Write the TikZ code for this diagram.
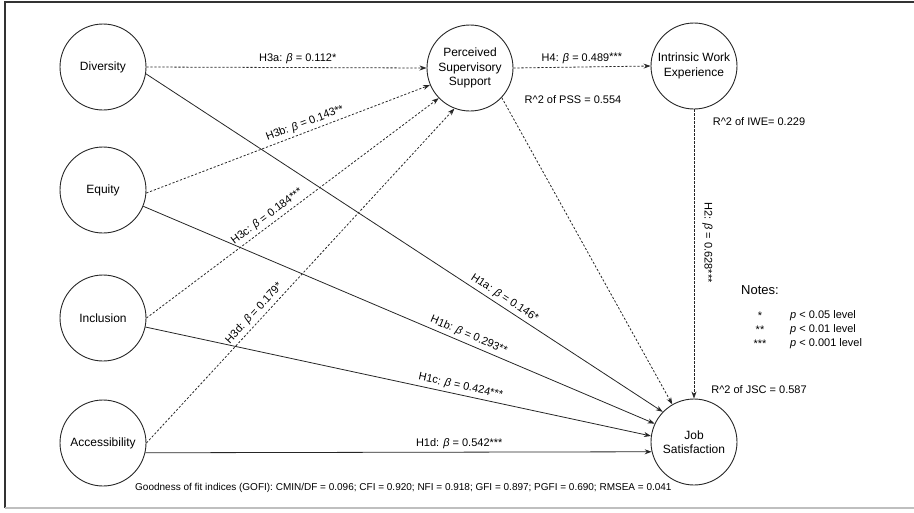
\documentclass[tikz,border=0pt]{standalone}
\usepackage{fontspec}
\setmainfont{Liberation Sans}
\usetikzlibrary{arrows.meta}
\newcommand{\bt}{\textit{β}}
\tikzset{
  var/.style={circle,draw=black!85,line width=0.9pt,minimum size=86pt,inner sep=0pt,align=center,font=\fontsize{12}{14.5}\selectfont},
  solidarr/.style={draw=black!85,line width=0.8pt,-{Stealth[length=7pt,width=5pt]}},
  dotarr/.style={draw=black!85,line width=0.8pt,dash pattern=on 2.2pt off 1.8pt,-{Stealth[length=7pt,width=5pt]}},
  elab/.style={font=\fontsize{11}{13}\selectfont,inner sep=1pt,sloped,above=2pt},
  plain/.style={font=\fontsize{11}{13}\selectfont,inner sep=0pt}
}
\begin{document}
\begin{tikzpicture}[x=1pt,y=-1pt]
\useasboundingbox (0,0) rectangle (914,512);
% frame
\draw[black!80,line width=1.6pt] (5,508) -- (5,2) -- (914,2);
\draw[black!25,line width=1.6pt] (5,508) -- (914,508);
% nodes
\node[var] (div) at (103,67) {Diversity};
\node[var] (equ) at (103,190) {Equity};
\node[var] (inc) at (103,318) {Inclusion};
\node[var] (acc) at (103,443) {Accessibility};
\node[var] (pss) at (470,68) {Perceived\\Supervisory\\Support};
\node[var] (iwe) at (694,66) {Intrinsic Work\\Experience};
\node[var] (jsc) at (694,442) {Job\\Satisfaction};
% paths to PSS
\draw[dotarr] (div.0) -- node[elab,pos=0.54] {H3a: \bt{} = 0.112*} (pss.180);
\draw[dotarr] (equ.-4) -- node[elab,pos=0.57] {H3b: \bt{} = 0.143**} (pss.203);
\draw[dotarr] (inc.0) -- node[elab,pos=0.43] {H3c: \bt{} = 0.184***} (pss.224);
\draw[dotarr] (acc.0) -- node[elab,pos=0.37] {H3d: \bt{} = 0.179*} (pss.249);
% paths to JSC
\draw[solidarr] (div.-9) -- node[elab,pos=0.685] {H1a: \bt{} = 0.146*} (jsc.136);
\draw[solidarr] (equ.-22) -- node[elab,pos=0.63] {H1b: \bt{} = 0.293**} (jsc.155);
\draw[solidarr] (inc.-12) -- node[elab,pos=0.62] {H1c: \bt{} = 0.424***} (jsc.172);
\draw[solidarr] (acc.-13) -- node[elab,pos=0.62] {H1d: \bt{} = 0.542***} (jsc.193);
\draw[dotarr] (pss.-43) -- (jsc.120);
\draw[dotarr] (pss.0) -- node[elab,pos=0.5] {H4: \bt{} = 0.489***} (iwe.180);
\draw[dotarr] (iwe.south) -- node[elab,above=5pt,pos=0.46] {H2: \bt{} = 0.628***} (jsc.north);
% R^2 texts
\node[plain] (rpss) at (573,100) {R\textasciicircum 2 of PSS = 0.554};
\node[plain] (riwe) at (759,122) {R\textasciicircum 2 of IWE= 0.229};
\node[plain] (rjsc) at (759,390) {R\textasciicircum 2 of JSC = 0.587};
% notes
\node[font=\fontsize{13}{15}\selectfont,inner sep=0pt] (notes) at (760,290) {Notes:};
\node[plain] (s1) at (760,316) {*};
\node[plain] (s2) at (760,330) {**};
\node[plain] (s3) at (760,344) {***};
\node[plain,anchor=west] (p1) at (790,316) {\textit{p} < 0.05 level};
\node[plain,anchor=west] (p2) at (790,330) {\textit{p} < 0.01 level};
\node[plain,anchor=west] (p3) at (790,344) {\textit{p} < 0.001 level};
% GOFI
\node[font=\fontsize{10}{12}\selectfont,inner sep=0pt,anchor=west] (gofi) at (135,488) {Goodness of fit indices (GOFI): CMIN/DF = 0.096; CFI = 0.920; NFI = 0.918; GFI = 0.897; PGFI = 0.690; RMSEA = 0.041};
\end{tikzpicture}
\end{document}
